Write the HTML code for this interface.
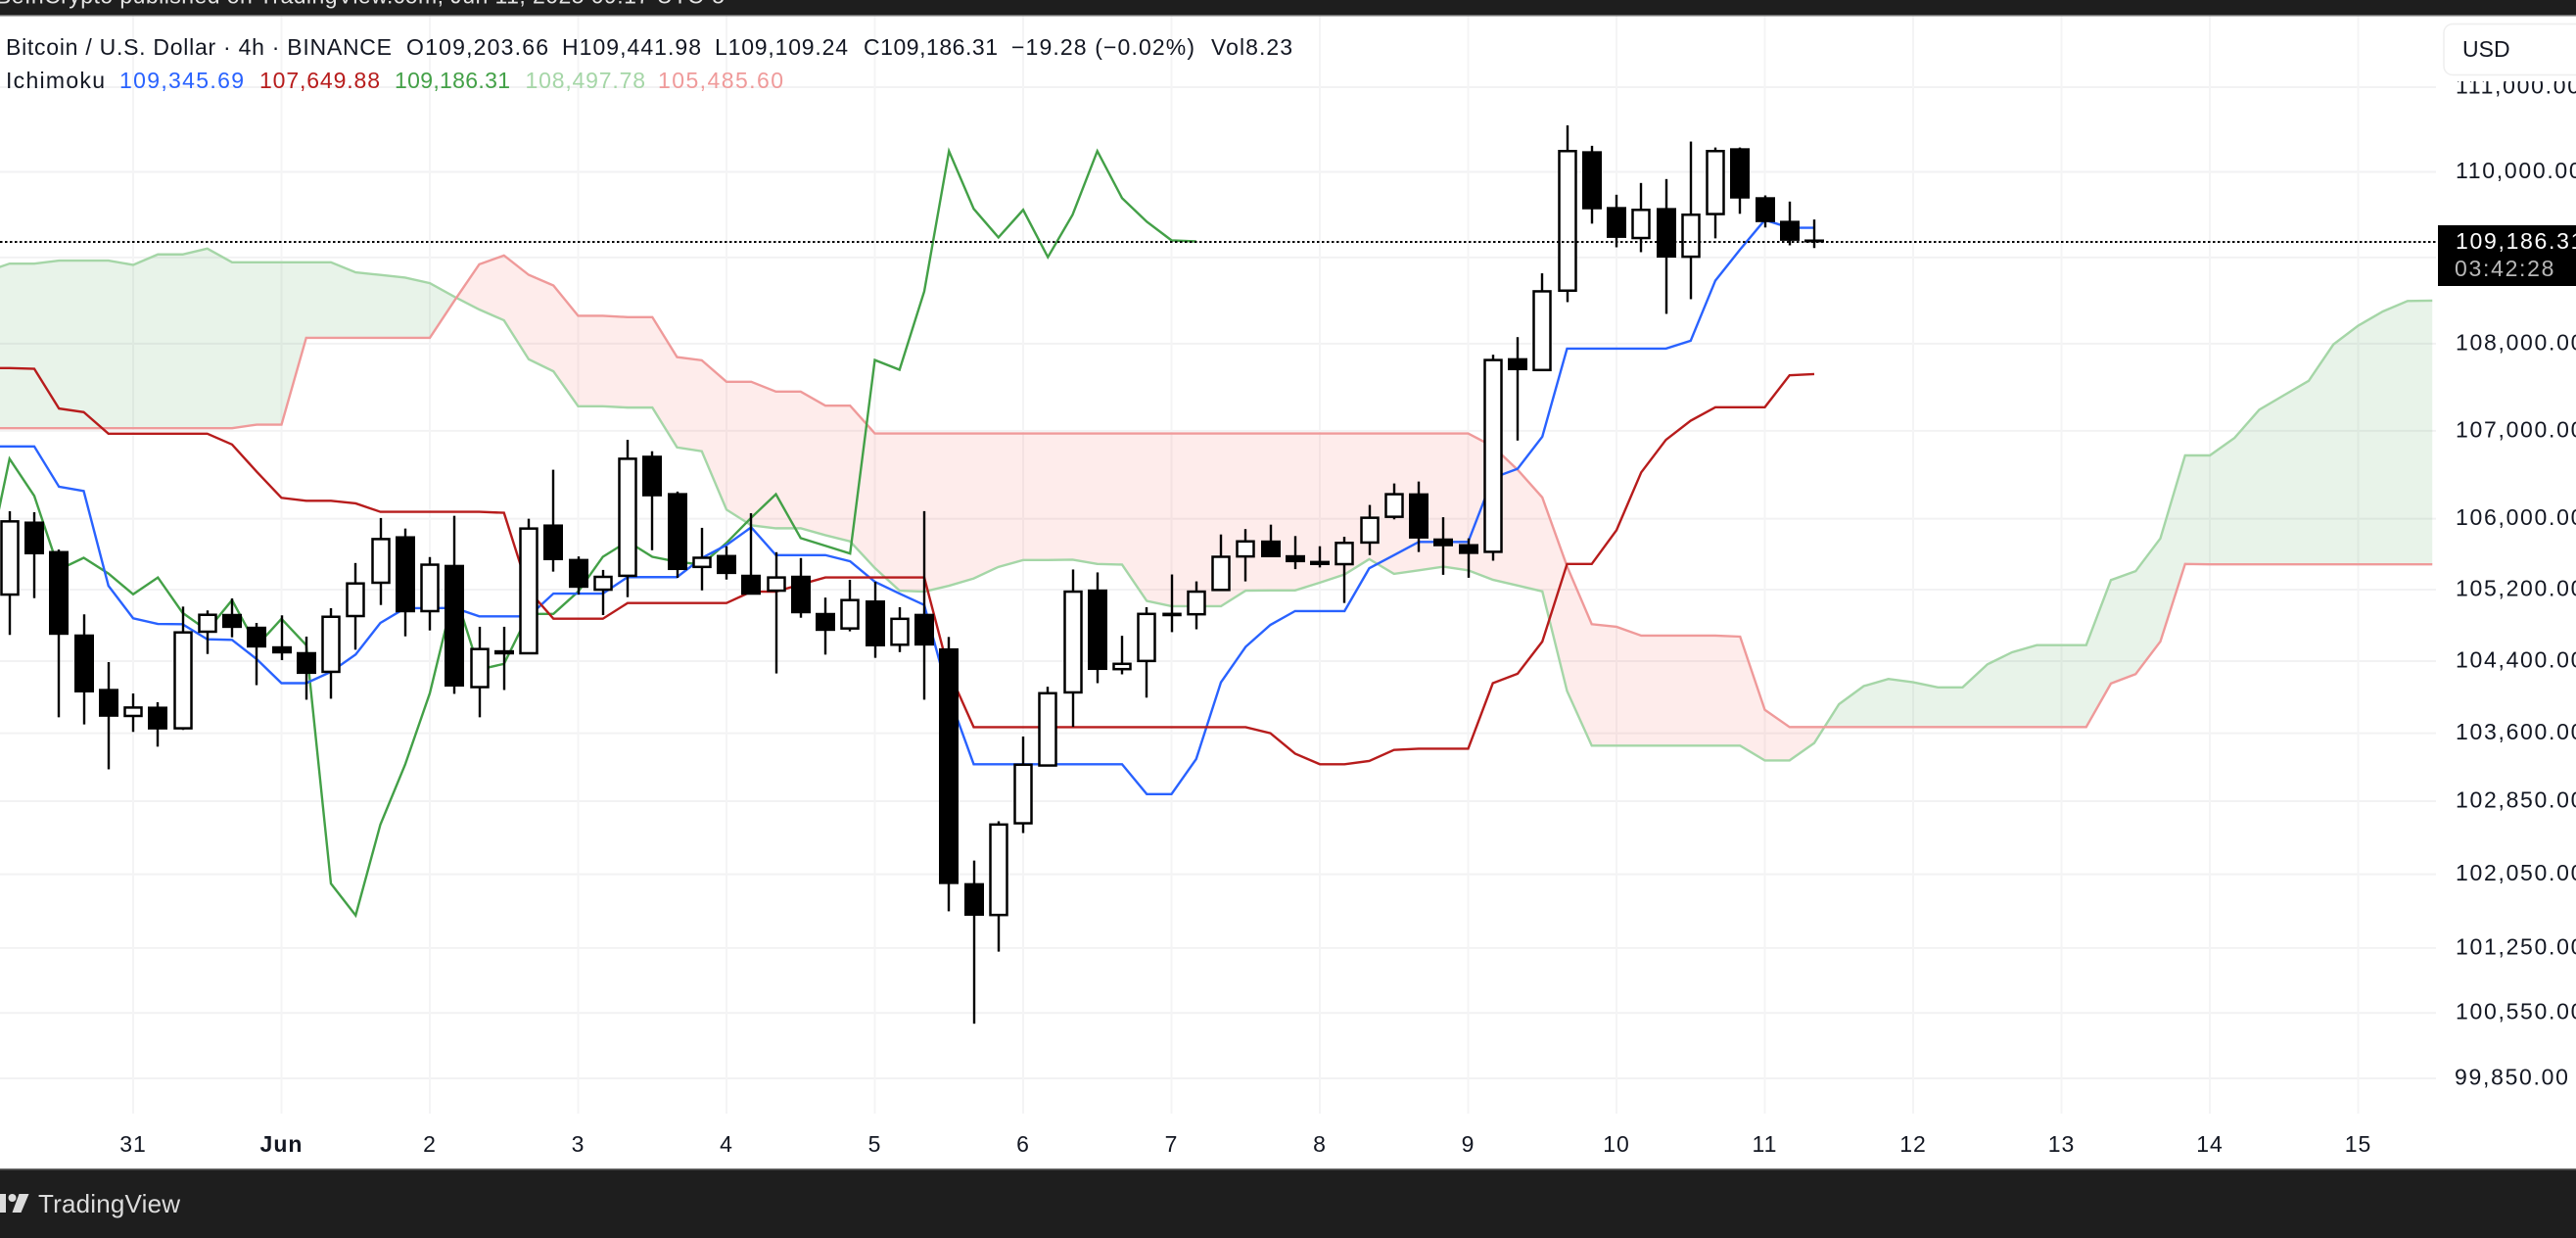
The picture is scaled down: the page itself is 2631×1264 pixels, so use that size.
<!DOCTYPE html>
<html lang="en">
<head>
<meta charset="utf-8">
<title>Bitcoin / U.S. Dollar 4h Ichimoku chart</title>
<style>
html,body{margin:0;padding:0;background:#fff;width:2631px;height:1264px;overflow:hidden}
svg{display:block;font-family:"Liberation Sans",Arial,sans-serif}
.lg{font-size:23px;fill:#131722}
.ax{font-size:23px;fill:#131722;letter-spacing:1.7px}
.tm{font-size:23px;fill:#131722;letter-spacing:1px;text-anchor:middle}
</style>
</head>
<body>
<svg id="root" xmlns="http://www.w3.org/2000/svg" width="2631" height="1264" viewBox="0 0 2631 1264">
  <defs>
    <clipPath id="pane-clip"><rect x="0" y="16" width="2488" height="1121"></rect></clipPath>
  </defs>
  <rect x="0" y="0" width="2631" height="1264" fill="#ffffff"></rect>

  <g id="pane" clip-path="url(#pane-clip)">
    <g id="grid"></g>
    <g id="cloud"></g>
    <g id="lines"></g>
    <g id="candles"></g>
    <g id="priceline"></g>
  </g>

  <g id="y-axis"></g>
  <g id="x-axis"></g>

  <g>
    <rect x="2490" y="17" width="141" height="66" fill="#ffffff"></rect>
    <rect x="2496" y="24.5" width="150" height="52" rx="9" fill="#ffffff" stroke="#eeeeee" stroke-width="1.5"></rect>
    <text x="2515" y="58" style="font-size:23px;fill:#131722">USD</text>
  </g>

  <g>
    <rect x="2490" y="230" width="141" height="62" fill="#000000"></rect>
    <text x="2508" y="254" style="font-size:23px;fill:#ffffff;letter-spacing:1.7px">109,186.31</text>
    <text x="2507" y="282" style="font-size:23px;fill:#b8b8b8;letter-spacing:1.7px">03:42:28</text>
  </g>

  <g>
    <text class="lg" x="6" y="56" textLength="394" lengthAdjust="spacing">Bitcoin / U.S. Dollar · 4h · BINANCE</text>
    <text class="lg" x="415" y="56" textLength="145" lengthAdjust="spacing">O109,203.66</text>
    <text class="lg" x="574" y="56" textLength="142" lengthAdjust="spacing">H109,441.98</text>
    <text class="lg" x="730" y="56" textLength="136" lengthAdjust="spacing">L109,109.24</text>
    <text class="lg" x="882" y="56" textLength="137" lengthAdjust="spacing">C109,186.31</text>
    <text class="lg" x="1033" y="56" textLength="187" lengthAdjust="spacing">−19.28 (−0.02%)</text>
    <text class="lg" x="1237" y="56" textLength="83" lengthAdjust="spacing">Vol8.23</text>
  </g>
  <g>
    <text class="lg" x="6" y="90" textLength="101" lengthAdjust="spacing">Ichimoku</text>
    <text class="lg" x="122" y="90" textLength="127" lengthAdjust="spacing" style="fill:#2962FF">109,345.69</text>
    <text class="lg" x="265" y="90" textLength="123" lengthAdjust="spacing" style="fill:#B71C1C">107,649.88</text>
    <text class="lg" x="403" y="90" textLength="118" lengthAdjust="spacing" style="fill:#43A047">109,186.31</text>
    <text class="lg" x="536.5" y="90" textLength="122.5" lengthAdjust="spacing" style="fill:#A5D6A7">108,497.78</text>
    <text class="lg" x="672" y="90" textLength="128" lengthAdjust="spacing" style="fill:#EF9A9A">105,485.60</text>
  </g>

  <g>
    <rect x="0" y="0" width="2631" height="15" fill="#1e1e1e"></rect>
    <rect x="0" y="15" width="2631" height="1.5" fill="#6a6a6a"></rect>
    <text x="-4" y="3.5" textLength="744" lengthAdjust="spacing" style="font-size:23px;fill:#e4e4e4">BeInCrypto published on TradingView.com, Jun 11, 2025 09:17 UTC-5</text>
  </g>

  <g>
    <rect x="0" y="1193" width="2631" height="71" fill="#1e1e1e"></rect>
    <rect x="0" y="1193" width="2631" height="1.5" fill="#6a6a6a"></rect>
    <g fill="#dcdcdc">
      <rect x="0" y="1219" width="6" height="19"></rect>
      <circle cx="12.5" cy="1223" r="4"></circle>
      <polygon points="19.5,1219 29.5,1219 21.5,1238 12.5,1238"></polygon>
    </g>
    <text x="39" y="1238" textLength="145" lengthAdjust="spacing" style="font-size:26px;fill:#dcdcdc">TradingView</text>
  </g>
</svg>

<script>
// ---------- axis ticks ----------
const priceTicks = [111000,110000,109000,108000,107000,106000,105200,104400,103600,102850,102050,101250,100550,99850];
const priceTickLabels = ["111,000.00","110,000.00","109,000.00","108,000.00","107,000.00","106,000.00","105,200.00","104,400.00","103,600.00","102,850.00","102,050.00","101,250.00","100,550.00","99,850.00"];
const dayLabels = ["31","Jun","2","3","4","5","6","7","8","9","10","11","12","13","14","15"];
const boldDayLabels = ["Jun"];
const lastPrice = 109186.31;

// ---------- candles (first bar is index -5 relative to May 31 00:00, 4h bars) ----------
const firstCandleBar = -5;
const barOpen = [105145,105963,105630,104693,104086,103791,103889,103654,104729,104923,104780,104561,104496,104281,104904,105278,105797,104959,105474,104111,104517,104488,105930,105541,105200,105356,106711,106286,105456,105586,105363,105189,105352,104934,104765,105074,104583,104924,104538,101949,101608,102608,103243,104052,105197,104311,104402,104915,104924,105197,105574,105749,105583,105519,105487,105731,106022,106283,105772,105708,105626,107828,107697,108614,110238,109583,109226,109571,109008,109506,110273,109698,109422,109203.66];
const barHigh = [106085,106074,105652,104923,104389,104040,103943,105010,104967,105101,104827,104912,104674,104992,105500,106008,105889,105567,106033,104784,104784,106000,106556,105574,105422,106897,106767,106308,105897,105689,106063,105622,105556,105111,105311,105289,105003,106086,104670,102200,102630,103563,104115,105427,105394,104683,105003,105371,105293,105822,105883,105933,105804,105689,105796,106156,106400,106422,106017,105778,107873,108076,108815,110548,110307,109732,109870,109916,110357,110287,110287,109724,109652,109441.98];
const barLow = [104693,105105,103776,103697,103201,103614,103451,103636,104480,104666,104133,104411,103971,103982,104528,105028,104677,104743,104036,103776,104079,104480,105403,105145,104915,105116,105644,105333,105192,105314,105148,104263,104885,104473,104733,104437,104501,103971,101648,100435,101211,102501,103243,103670,104155,104253,103994,104724,104756,105197,105293,105570,105431,105450,105051,105589,105993,105624,105367,105334,105526,106889,107697,108481,109394,109118,109061,108345,108515,109222,109509,109349,109141,109109.24];
const barClose = [105970,105603,104699,104057,103787,103884,103646,104721,104918,104776,104557,104491,104263,104896,105270,105770,104951,105481,104122,104535,104480,105889,105537,105226,105344,106681,106259,105426,105559,105381,105148,105337,104940,104743,105083,104570,104873,104579,101949,101604,102594,103252,104043,105178,104307,104370,104928,104928,105178,105570,105744,105570,105514,105482,105727,106011,106278,105781,105694,105607,107812,107700,108606,110245,109567,109233,109555,109003,109498,110245,109693,109417,109199,109186.31];

// ---------- Ichimoku lines ----------
const firstLineBar = -6;
const conversionLine = [106822,106822,106822,106363,106314,105244,104879,104816,104813,104644,104638,104422,104155,104155,104281,104474,104827,104992,104992,104995,104901,104901,104901,105156,105156,105156,105341,105341,105341,105556,105703,105903,105589,105589,105589,105519,105289,105156,105028,104011,103257,103257,103257,103257,103257,103257,103257,102928,102928,103315,104164,104560,104805,104960,104960,104960,105441,105589,105738,105738,105738,106463,106567,106933,107944,107944,107944,107944,107944,108034,108731,109092,109437,109346,109345.69];
const baseLine = [107719,107719,107711,107255,107214,106967,106967,106967,106967,106967,106844,106533,106237,106203,106203,106174,106078,106078,106078,106078,106078,106067,105189,104874,104874,104874,105050,105050,105050,105050,105050,105178,105178,105259,105337,105337,105337,105337,105337,104281,103666,103666,103666,103666,103666,103666,103666,103666,103666,103666,103666,103666,103600,103374,103257,103257,103293,103415,103428,103428,103428,104155,104260,104619,105489,105489,105870,106526,106897,107116,107270,107270,107270,107637,107649.88];
const laggingSpan = [105344,106681,106259,105426,105559,105381,105148,105337,104940,104743,105083,104570,104873,104579,101949,101604,102594,103252,104043,105178,104307,104370,104928,104928,105178,105570,105744,105570,105514,105482,105727,106011,106278,105781,105694,105607,107812,107700,108606,110245,109567,109233,109555,109003,109498,110245,109693,109417,109199,109186.31];
const leadingSpanA = [108830,108928,108928,108963,108963,108963,108913,109035,109035,109103,108943,108943,108943,108943,108943,108826,108796,108765,108701,108542,108395,108270,107820,107682,107281,107281,107266,107266,106811,106767,106103,105926,105892,105892,105814,105744,105444,105189,105178,105244,105326,105456,105533,105533,105538,105489,105482,105074,105014,105014,105014,105189,105192,105192,105279,105371,105544,105378,105418,105459,105418,105311,105247,105181,104068,103462,103462,103462,103462,103462,103462,103462,103299,103299,103491,103921,104122,104202,104165,104108,104108,104364,104499,104579,104579,104579,105308,105408,105778,106719,106719,106919,107241,107408,107573,107992,108208,108373,108494,108497.78];
const leadingSpanB = [107030,107030,107030,107030,107030,107030,107030,107030,107030,107030,107030,107071,107071,108068,108068,108068,108068,108068,108068,108500,108920,109023,108797,108674,108322,108322,108307,108307,107846,107809,107562,107562,107449,107449,107288,107288,106970,106970,106970,106970,106970,106970,106970,106970,106970,106970,106970,106970,106970,106970,106970,106970,106970,106970,106970,106970,106970,106970,106970,106970,106970,106822,106556,106241,105463,104813,104784,104685,104685,104685,104685,104674,103859,103668,103668,103668,103668,103668,103668,103668,103668,103668,103668,103668,103668,103668,104151,104256,104619,105489,105485.6,105485.6,105485.6,105485.6,105485.6,105485.6,105485.6,105485.6,105485.6,105485.6];

// ---------- scales ----------
const axisTopPrice = 111000, axisTopY = 89, logScale = 9560;
const day0X = 136, barStep = 25.25, barsPerDay = 6;
function yScale(p){ return axisTopY + logScale * Math.log(axisTopPrice / p); }
function xScale(bar){ return day0X + barStep * bar; }

const NS = "http://www.w3.org/2000/svg";
function make(tag, attrs, parent){
  const n = document.createElementNS(NS, tag);
  for (const k in attrs) n.setAttribute(k, attrs[k]);
  parent.appendChild(n);
  return n;
}

// ---------- grid ----------
const gridG = document.getElementById("grid");
priceTicks.forEach(function(t){
  const l = make("line", {x1:0, x2:2488, y1:yScale(t), y2:yScale(t), stroke:"#f2f2f3", "stroke-width":2}, gridG);
  
  
});
dayLabels.forEach(function(d, k){
  const x = xScale(k * barsPerDay);
  const l = make("line", {x1:x, x2:x, y1:16, y2:1137, stroke:"#f4f4f5", "stroke-width":2}, gridG);
  
  
});

// ---------- axes ----------
const yAxisG = document.getElementById("y-axis");
priceTicks.forEach(function(t, k){
  const tx = make("text", {x: t < 100000 ? 2507 : 2508, y: yScale(t) + 6.5, class: "ax"}, yAxisG);
  tx.textContent = priceTickLabels[k];
  
  
});
const xAxisG = document.getElementById("x-axis");
dayLabels.forEach(function(d, k){
  const tx = make("text", {x: xScale(k * barsPerDay), y: 1176, class: "tm"}, xAxisG);
  if (boldDayLabels.indexOf(d) >= 0) tx.setAttribute("font-weight", "bold");
  tx.textContent = d;
  
  
});

// ---------- cloud fill (polygons between span A and span B, split at crossings) ----------
const cloudG = document.getElementById("cloud");
function flushRun(upper, lower, positive){
  if (upper.length < 2) return;
  const pts = upper.concat(lower.slice().reverse()).map(function(p){ return p[0].toFixed(2) + "," + p[1].toFixed(2); }).join(" ");
  const poly = make("polygon", {points: pts, fill: positive ? "rgba(67,160,71,0.12)" : "rgba(244,67,54,0.10)", stroke: "none"}, cloudG);
  
  
}
(function(){
  let runA = [], runB = [], sign = null;
  for (let k = 0; k < leadingSpanA.length; k++){
    const x = xScale(firstLineBar + k);
    const ya = yScale(leadingSpanA[k]), yb = yScale(leadingSpanB[k]);
    const s = ya <= yb;
    if (sign !== null && s !== sign){
      const px = xScale(firstLineBar + k - 1);
      const pa = yScale(leadingSpanA[k-1]), pb = yScale(leadingSpanB[k-1]);
      const t = (pb - pa) / ((ya - pa) - (yb - pb));
      const cx = px + (x - px) * t, cy = pa + (ya - pa) * t;
      runA.push([cx, cy]); runB.push([cx, cy]);
      flushRun(runA, runB, sign);
      runA = [[cx, cy]]; runB = [[cx, cy]];
    }
    runA.push([x, ya]); runB.push([x, yb]);
    sign = s;
  }
  flushRun(runA, runB, sign);
})();

// ---------- Ichimoku lines ----------
const linesG = document.getElementById("lines");
function seriesPath(values){
  return values.map(function(v, k){
    return (k ? "L" : "M") + xScale(firstLineBar + k).toFixed(2) + " " + yScale(v).toFixed(2);
  }).join(" ");
}
const spanAPath = make("path", {d: seriesPath(leadingSpanA), fill:"none", stroke:"#A5D6A7", "stroke-width":2.4}, linesG);


const spanBPath = make("path", {d: seriesPath(leadingSpanB), fill:"none", stroke:"#EF9A9A", "stroke-width":2.4}, linesG);


const lagPath = make("path", {d: seriesPath(laggingSpan), fill:"none", stroke:"#43A047", "stroke-width":2.4}, linesG);


const convPath = make("path", {d: seriesPath(conversionLine), fill:"none", stroke:"#2962FF", "stroke-width":2.4}, linesG);


const basePath = make("path", {d: seriesPath(baseLine), fill:"none", stroke:"#B71C1C", "stroke-width":2.4}, linesG);



// ---------- candles ----------
const candleG = document.getElementById("candles");
barOpen.forEach(function(o, k){
  const c = barClose[k], h = barHigh[k], l = barLow[k];
  const cx = Math.round(xScale(firstCandleBar + k));
  const top = yScale(Math.max(o, c)), bot = yScale(Math.min(o, c));
  const wick = make("rect", {x: cx - 1.2, y: yScale(h), width: 2.4, height: yScale(l) - yScale(h), fill:"#000000"}, candleG);
  
  
  let body;
  if (c >= o){
    body = make("rect", {x: cx - 8.5, y: top, width: 17, height: Math.max(bot - top, 1), fill:"#ffffff", stroke:"#000000", "stroke-width":2.5}, candleG);
  } else {
    const hh = Math.max(bot - top, 2);
    body = make("rect", {x: cx - 10, y: top - 0.5, width: 20, height: hh + 1, fill:"#000000"}, candleG);
  }
  
  
});

// ---------- last price line ----------
const priceY = Math.round(yScale(lastPrice) + 0.2);
const priceLine = make("line", {x1:0, x2:2488, y1:priceY, y2:priceY, stroke:"#000000", "stroke-width":2, "stroke-dasharray":"2.5 2.5"}, document.getElementById("priceline"));


</script>
</body>
</html>
